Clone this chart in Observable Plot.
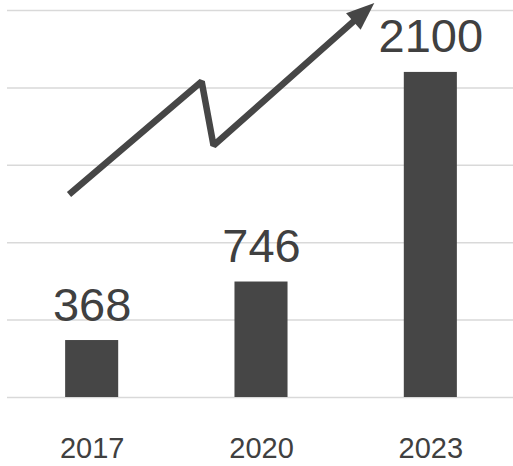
<!DOCTYPE html>
<html><head><meta charset="utf-8">
<script src="https://cdn.jsdelivr.net/npm/d3@7"></script>
<script src="https://cdn.jsdelivr.net/npm/@observablehq/plot@0.6"></script>
<style>body{margin:0;background:#fff} svg{display:block;overflow:visible}</style>
</head><body><div id="chart"></div>
<script>
const years = [2017, 2020, 2023];
const values = [368, 746, 2100];
const yTicks = [0, 500, 1000, 1500, 2000, 2500];
const arrowYears = [2016.59, 2018.94, 2019.15, 2021.72];
const arrowValues = [1311, 2041, 1628, 2459];

const bars = years.map((y, i) => ({year: y, value: values[i]}));
const arrow = arrowYears.map((y, i) => ({year: y, value: arrowValues[i]}));
const half = 0.47;
const dark = "#464646";
const textColor = "#404040";

function headMarker(color) {
  const ns = "http://www.w3.org/2000/svg";
  const m = document.createElementNS(ns, "marker");
  m.setAttribute("viewBox", "-7 -11 29 22");
  m.setAttribute("refX", 0);
  m.setAttribute("refY", 0);
  m.setAttribute("markerWidth", 29);
  m.setAttribute("markerHeight", 22);
  m.setAttribute("markerUnits", "userSpaceOnUse");
  m.setAttribute("orient", "auto");
  m.setAttribute("overflow", "visible");
  const p = document.createElementNS(ns, "path");
  p.setAttribute("d", "M-7,-11L21,0L-7,11Z");
  p.setAttribute("fill", color);
  p.setAttribute("stroke", "none");
  m.appendChild(p);
  return m;
}

const chart = Plot.plot({
  width: 513,
  height: 466,
  marginTop: 10,
  marginBottom: 69,
  marginLeft: 7,
  marginRight: 0,
  style: {fontFamily: "'Liberation Sans', Arial, sans-serif", background: "#fff", overflow: "visible"},
  x: {domain: [2015.5, 2024.5], range: [7, 515], label: null},
  y: {domain: [0, 2500], axis: null, label: null},
  marks: [
    Plot.gridY(yTicks, {stroke: "#d9d9d9", strokeOpacity: 1, strokeWidth: 1.5}),
    Plot.rectY(bars, {x1: d => d.year - half, x2: d => d.year + half, y1: 0, y2: "value", fill: dark}),
    Plot.text(bars, {x: "year", y: "value", text: d => String(d.value), dy: -20, lineAnchor: "bottom", fontSize: 47, fill: textColor}),
    Plot.line(arrow, {x: "year", y: "value", stroke: dark, strokeWidth: 6.5, strokeLinejoin: "miter", strokeLinecap: "butt", markerEnd: headMarker}),
    Plot.axisX(years, {tickSize: 0, tickPadding: 40, fontSize: 29, tickFormat: d => String(d), color: textColor, label: null})
  ]
});
document.getElementById("chart").appendChild(chart);
</script>
</body></html>
